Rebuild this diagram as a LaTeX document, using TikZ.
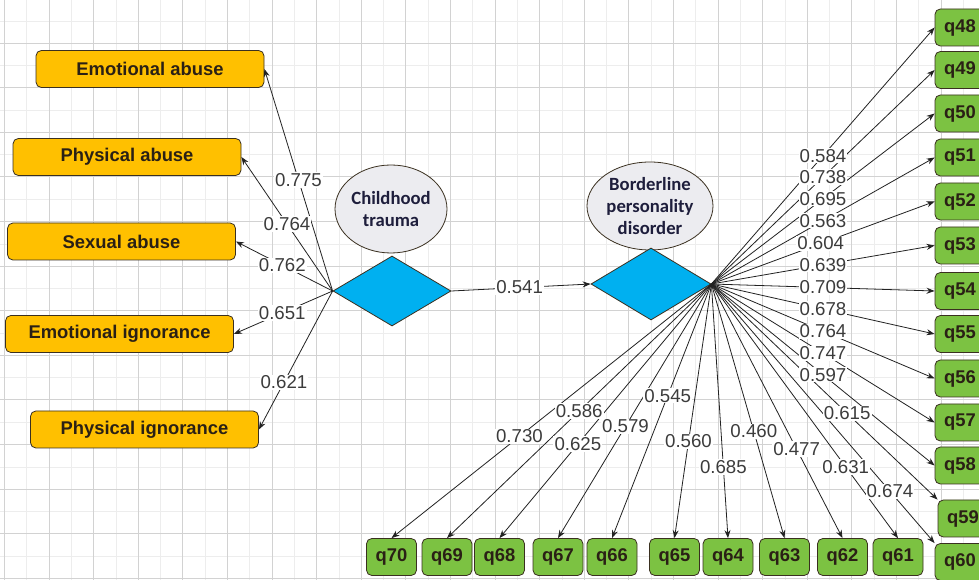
\documentclass[tikz,border=0pt]{standalone}
\usepackage{fontspec}
\setmainfont{Liberation Sans}
\newfontfamily\calib{Carlito}
\usetikzlibrary{shapes.geometric,arrows.meta}
\definecolor{boxorange}{HTML}{FFC000}
\definecolor{qgreen}{HTML}{7CC242}
\definecolor{diablue}{HTML}{00B0F0}
\definecolor{ellgrey}{HTML}{ECECF0}
\definecolor{gridmaj}{HTML}{D2D2D2}
\definecolor{gridmin}{HTML}{EDEDED}
\definecolor{labtext}{HTML}{3C3C3C}
\definecolor{linecol}{HTML}{222222}
\definecolor{boxtext}{HTML}{2A2015}
\definecolor{elltext}{HTML}{1E1E3C}
\definecolor{bordercol}{HTML}{3A3020}
\begin{document}
\begin{tikzpicture}[x=0.75pt,y=-0.75pt,
  obox/.style={rectangle,rounded corners=4pt,draw=bordercol,fill=boxorange,line width=0.6pt,
    minimum width=228*0.75pt,minimum height=37*0.75pt,inner sep=0pt,
    font=\bfseries\fontsize{13.8}{16}\selectfont,text=boxtext},
  qbox/.style={rectangle,rounded corners=4pt,draw=bordercol,fill=qgreen,line width=0.6pt,
    minimum width=50*0.75pt,minimum height=37*0.75pt,inner sep=0pt,
    font=\bfseries\fontsize{13.8}{16}\selectfont,text=boxtext},
  lat/.style={ellipse,draw=bordercol,fill=ellgrey,line width=0.6pt,inner sep=0pt,align=center,
    font=\calib\bfseries\fontsize{14}{16.5}\selectfont,text=elltext},
  dia/.style={diamond,draw=bordercol,fill=diablue,line width=0.6pt,inner sep=0pt},
  lab/.style={fill=white,inner sep=0.8pt,font=\fontsize{14}{16}\selectfont,text=labtext},
  arr/.style={draw=linecol,line width=0.6pt,-{Stealth[length=6pt,width=4.5pt]}}]
\useasboundingbox (0,0) rectangle (979,580);
\fill[white] (0,0) rectangle (979,580);
% grid
\begin{scope}
\clip (0,0) rectangle (979,580);
\foreach \k in {0,...,21} \draw[gridmin,line width=0.6pt] ({26.8+44.6*\k},0) -- ({26.8+44.6*\k},580);
\foreach \k in {0,...,13} \draw[gridmin,line width=0.6pt] (0,{21+44.6*\k}) -- (979,{21+44.6*\k});
\foreach \k in {0,...,22} \draw[gridmaj,line width=0.7pt] ({4.5+44.6*\k},0) -- ({4.5+44.6*\k},580);
\foreach \k in {0,...,13} \draw[gridmaj,line width=0.7pt] (0,{-1.6+44.6*\k}) -- (979,{-1.6+44.6*\k});
\end{scope}

% left indicator boxes
\node[obox] (ea) at (150,69) {Emotional abuse};
\node[obox] (pa) at (127,157) {Physical abuse};
\node[obox] (sa) at (121.5,241.5) {Sexual abuse};
\node[obox] (ei) at (119.5,334) {Emotional ignorance};
\node[obox] (pi) at (144.5,429.5) {Physical ignorance};

% latent variables
\node[lat,minimum width=103*0.75pt,minimum height=88*0.75pt] (ct) at (391,209) {Childhood\\trauma};
\node[lat,minimum width=126*0.75pt,minimum height=88*0.75pt] (bpd) at (650,206) {Borderline\\personality\\disorder};
\node[dia,minimum width=118*0.75pt,minimum height=70*0.75pt,aspect=1.69] (d1) at (392,291) {};
\node[dia,minimum width=120*0.75pt,minimum height=72*0.75pt,aspect=1.67] (d2) at (651,284) {};

% right q boxes
\foreach \n/\yy in {48/27.5,49/70,50/113.5,51/157.5,52/201.5,53/245.5,54/291,55/334,56/378.5,57/422.5,58/465.5}
  \node[qbox] (q\n) at (960,\yy) {q\n};
\node[qbox] (q59) at (963,518.5) {q59};
\node[qbox] (q60) at (960,562) {q60};
% bottom q boxes
\foreach \n/\xx in {70/391.5,69/447,68/499.5,67/558,66/612,65/674.5,64/728,63/784.5,62/842.5,61/898}
  \node[qbox] (q\n) at (\xx,557) {q\n};

% connectors
\foreach \t in {ea,pa,sa,ei,pi} \draw[arr] (d1.west) -- (\t.east);
\draw[arr] (d1.east) -- (d2.west);
\foreach \n in {48,49,50,51,52,53,54,55,56,57,58} \draw[arr] (d2.east) -- (q\n.west);
\foreach \n in {59,60} \draw[arr] (d2.east) -- (q\n.north west);
\foreach \n in {61,62,63,64,65,66,67,68,69,70} \draw[arr] (d2.east) -- (q\n.north);

% labels
\foreach \t/\v/\p in {ea/0.775/0.5,pa/0.764/0.5,sa/0.762/0.52,ei/0.651/0.51,pi/0.621/0.66}
  \path (d1.west) -- node[lab,pos=\p] (l\t) {\v} (\t.east);
\path (d1.east) -- node[lab,pos=0.49] (lct) {0.541} (d2.west);
\foreach \n/\v/\p in {48/0.584/0.5,49/0.738/0.5,50/0.695/0.5,51/0.563/0.5,52/0.604/0.49,53/0.639/0.5,54/0.709/0.5,55/0.678/0.5,56/0.764/0.5,57/0.747/0.5,58/0.597/0.5}
  \path (d2.east) -- node[lab,pos=\p] (l\n) {\v} (q\n.west);
\path (d2.east) -- node[lab,pos=0.6] (l59) {0.615} (q59.north west);
\path (d2.east) -- node[lab,pos=0.8] (l60) {0.674} (q60.north west);
\foreach \n/\v/\p in {61/0.631/0.72,62/0.477/0.65,63/0.460/0.58,64/0.685/0.72,65/0.560/0.62,66/0.545/0.44,67/0.579/0.56,68/0.625/0.63,69/0.586/0.5,70/0.730/0.6}
  \path (d2.east) -- node[lab,pos=\p] (l\n) {\v} (q\n.north);
\end{tikzpicture}
\end{document}
